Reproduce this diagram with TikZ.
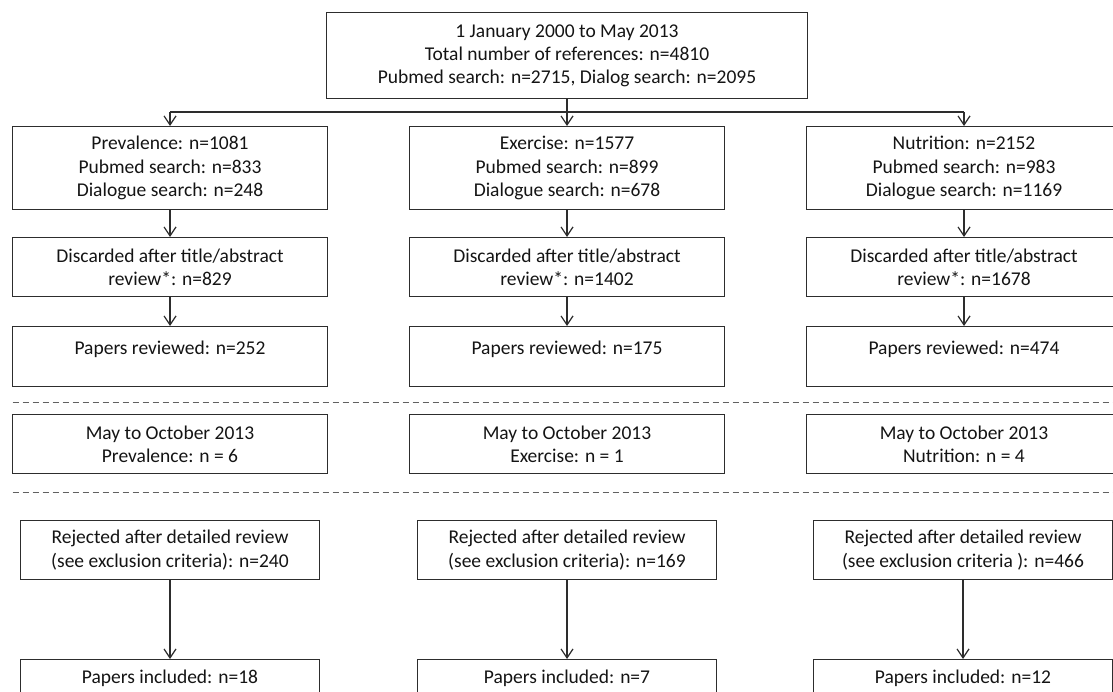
\documentclass[tikz,border=0pt]{standalone}
\usepackage{fontspec}
\setmainfont{Carlito}
\usetikzlibrary{arrows.meta,calc}
\definecolor{linec}{RGB}{45,45,45}
\definecolor{txtc}{RGB}{20,20,20}
\begin{document}
\begin{tikzpicture}[x=1pt,y=-1pt,
  font=\fontsize{19.5}{23.2}\selectfont, text=txtc,
  box/.style={draw=linec, line width=1.2pt, minimum width=314.5pt, minimum height=#1, inner sep=0pt, align=center, anchor=north},
  wbox/.style={box=#1, minimum width=299pt},
  txt/.style={inner sep=0pt, align=center},
  conn/.style={draw=linec, line width=1.2pt},
  arr/.style={conn, -{Straight Barb[length=9pt,width=12pt]}},
  sep/.style={draw=linec!75, line width=1pt, dash pattern=on 6pt off 4pt}]
\useasboundingbox (0,0) rectangle (1113,692);
\clip (0,0) rectangle (1113,692);

% top box
\node[box=86pt, minimum width=480.5pt] (top) at (567,12) {1 January 2000 to May 2013\\Total number of references: n=4810\\Pubmed search: n=2715, Dialog search: n=2095};

% row 1
\node[box=83pt] (prev) at (170,126) {Prevalence: n=1081\\Pubmed search: n=833\\Dialogue search: n=248};
\node[box=83pt] (exer) at (567,126) {Exercise: n=1577\\Pubmed search: n=899\\Dialogue search: n=678};
\node[box=83pt] (nutr) at (964,126) {Nutrition: n=2152\\Pubmed search: n=983\\Dialogue search: n=1169};

% row 2
\node[box=59pt] (dp) at (170,237) {Discarded after title/abstract\\review*: n=829};
\node[box=59pt] (de) at (567,237) {Discarded after title/abstract\\review*: n=1402};
\node[box=59pt] (dn) at (964,237) {Discarded after title/abstract\\review*: n=1678};

% row 3
\node[box=60pt] (rp) at (170,326) {};
\node[box=60pt] (re) at (567,326) {};
\node[box=60pt] (rn) at (964,326) {};
\node[txt] (rpt) at (170,349) {Papers reviewed: n=252};
\node[txt] (ret) at (567,349) {Papers reviewed: n=175};
\node[txt] (rnt) at (964,349) {Papers reviewed: n=474};

% separator 1
\coordinate (d1a) at (12.5,402);
\coordinate (d1b) at (1113,402);
\draw[sep] (d1a) -- (d1b);

% row 4
\node[box=59pt] (mp) at (170,414) {May to October 2013\\Prevalence: n = 6};
\node[box=59pt] (me) at (567,414) {May to October 2013\\Exercise: n = 1};
\node[box=59pt] (mn) at (964,414) {May to October 2013\\Nutrition: n = 4};

% separator 2
\coordinate (d2a) at (12.5,492);
\coordinate (d2b) at (1113,492);
\draw[sep] (d2a) -- (d2b);

% row 5
\node[wbox=59pt] (jp) at (170,520) {Rejected after detailed review\\(see exclusion criteria): n=240};
\node[wbox=59pt] (je) at (567,520) {Rejected after detailed review\\(see exclusion criteria): n=169};
\node[wbox=59pt] (jn) at (963,520) {Rejected after detailed review\\(see exclusion criteria ): n=466};

% row 6
\node[wbox=60pt] (ip) at (170,659) {};
\node[wbox=60pt] (ie) at (567,659) {};
\node[wbox=60pt] (in) at (963,659) {};
\node[txt] (ipt) at (170,678) {Papers included: n=18};
\node[txt] (iet) at (567,678) {Papers included: n=7};
\node[txt] (int) at (963,678) {Papers included: n=12};

% connectors
\coordinate (bl) at (170,112);
\coordinate (br) at (964,112);
\draw[arr] (top.south) -- (exer.north);
\draw[conn] (bl) -- (br);
\draw[arr] (bl) -- (prev.north);
\draw[arr] (br) -- (nutr.north);

\draw[arr] (prev.south) -- (dp.north);
\draw[arr] (exer.south) -- (de.north);
\draw[arr] (nutr.south) -- (dn.north);

\draw[arr] (dp.south) -- (rp.north);
\draw[arr] (de.south) -- (re.north);
\draw[arr] (dn.south) -- (rn.north);

\draw[arr] (jp.south) -- (ip.north);
\draw[arr] (je.south) -- (ie.north);
\draw[arr] (jn.south) -- (in.north);
\end{tikzpicture}
\end{document}
